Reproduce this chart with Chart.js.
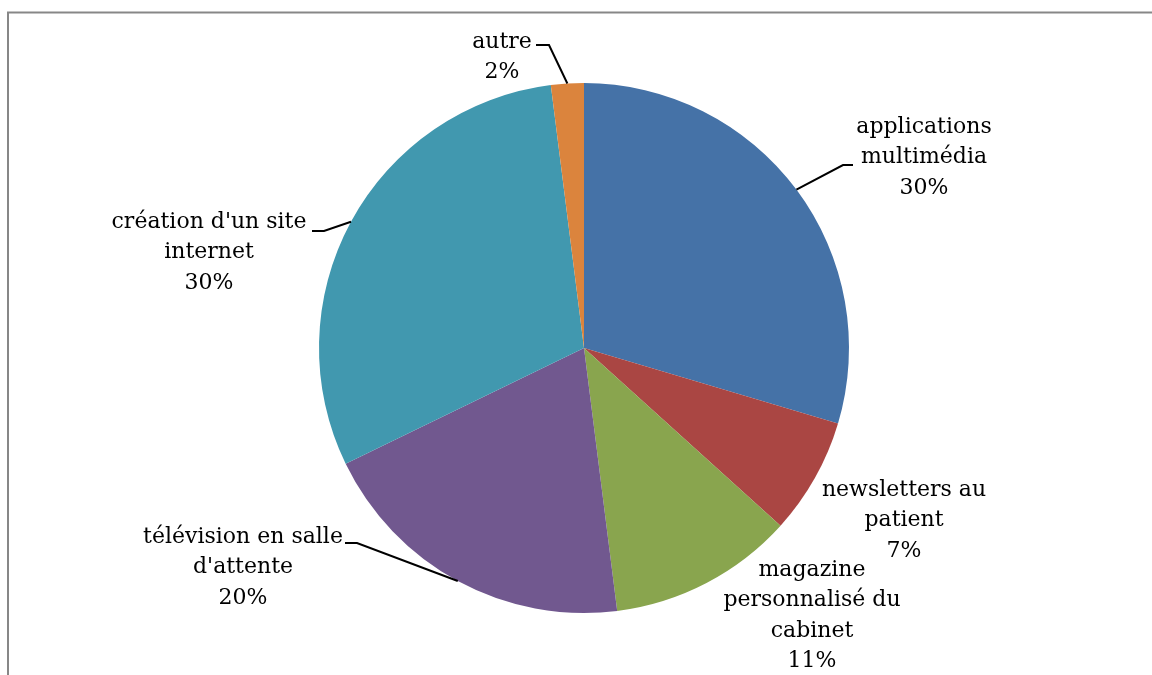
<!DOCTYPE html>
<html>
<head>
<meta charset="utf-8">
<script src="https://cdn.jsdelivr.net/npm/chart.js@4"></script>
<style>
    html, body { margin: 0; padding: 0; background: #fff; }
    #wrap { position: relative; width: 1152px; height: 675px; }
</style>
</head>
<body>
<div id="wrap"><canvas id="pie" width="1152" height="675"></canvas></div>
<script>
// Chart data
const categories = [
    ['applications', 'multimédia'],
    ['newsletters au', 'patient'],
    ['magazine', 'personnalisé du', 'cabinet'],
    ['télévision en salle', "d'attente"],
    ["création d'un site", 'internet'],
    ['autre']
];
const shares = [29.6, 7.1, 11.3, 19.8, 30.2, 2.0];
const sliceColors = ['#4572A7', '#AA4643', '#89A54E', '#71588F', '#4198AF', '#DB843D'];

// Label placement relative to pie centre (text centre of first line, leader elbow/end)
const labelSpots = [
    { x: 340, y: -221, elbow: [259, -183], end: [269, -183] },
    { x: 320, y: 142 },
    { x: 228, y: 222 },
    { x: -341, y: 189, elbow: [-227, 195], end: [-239, 195] },
    { x: -375, y: -126, elbow: [-260, -117], end: [-272, -117] },
    { x: -82, y: -306, elbow: [-35, -303], end: [-48, -303] }
];

const LINE_H = 30.5;

// Frame around the chart
const framePlugin = {
    id: 'frame',
    beforeDraw(chart) {
        const ctx = chart.ctx;
        ctx.save();
        ctx.fillStyle = '#fff';
        ctx.fillRect(0, 0, chart.width, chart.height);
        ctx.strokeStyle = '#878787';
        ctx.lineWidth = 2;
        ctx.strokeRect(8, 12.5, 1300, 800);
        ctx.restore();
    }
};

// Data labels with leader lines
const labelPlugin = {
    id: 'pieLabels',
    afterDatasetsDraw(chart) {
        const ctx = chart.ctx;
        const meta = chart.getDatasetMeta(0);
        const total = shares.reduce((a, b) => a + b, 0);
        ctx.save();
        ctx.font = '22px "DejaVu Serif", serif';
        ctx.fillStyle = '#000';
        ctx.textAlign = 'center';
        ctx.textBaseline = 'middle';
        meta.data.forEach((arc, i) => {
            const p = arc.getProps(['x', 'y', 'startAngle', 'endAngle', 'outerRadius'], true);
            const spot = labelSpots[i];
            const lines = categories[i].concat([Math.round(shares[i] / total * 100) + '%']);
            lines.forEach((txt, k) => {
                ctx.fillText(txt, p.x + spot.x, p.y + spot.y + k * LINE_H);
            });
            if (spot.elbow) {
                const mid = (p.startAngle + p.endAngle) / 2;
                const ax = p.x + Math.cos(mid) * p.outerRadius;
                const ay = p.y + Math.sin(mid) * p.outerRadius;
                ctx.beginPath();
                ctx.strokeStyle = '#000';
                ctx.lineWidth = 2;
                ctx.moveTo(ax, ay);
                ctx.lineTo(p.x + spot.elbow[0], p.y + spot.elbow[1]);
                ctx.lineTo(p.x + spot.end[0], p.y + spot.end[1]);
                ctx.stroke();
            }
        });
        ctx.restore();
    }
};

new Chart(document.getElementById('pie'), {
    type: 'pie',
    data: {
        labels: categories.map(c => c.join(' ')),
        datasets: [{
            data: shares,
            backgroundColor: sliceColors,
            borderWidth: 0
        }]
    },
    options: {
        responsive: false,
        animation: false,
        layout: { padding: { left: 319, right: 303, top: 83, bottom: 62 } },
        plugins: {
            legend: { display: false },
            tooltip: { enabled: false }
        }
    },
    plugins: [framePlugin, labelPlugin]
});
</script>
</body>
</html>
